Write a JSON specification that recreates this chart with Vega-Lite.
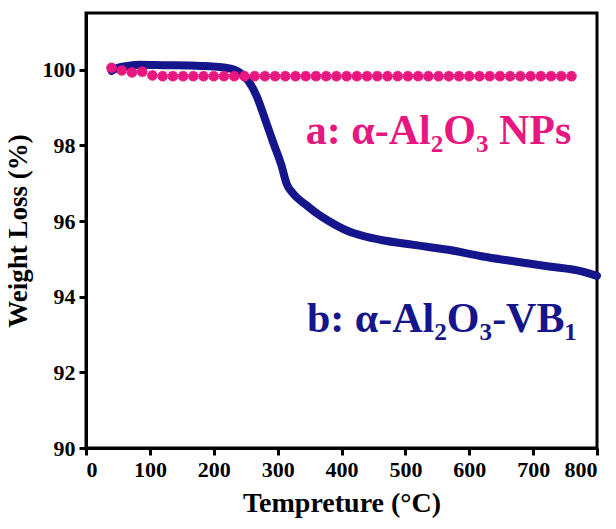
{
  "$schema": "https://vega.github.io/schema/vega-lite/v6.json",
  "width": 511,
  "height": 435,
  "autosize": "none",
  "padding": {"left": 86, "top": 13, "right": 19, "bottom": 81},
  "background": "white",
  "config": {
    "view": {"stroke": "black", "strokeWidth": 3},
    "font": "Liberation Serif",
    "axis": {
      "domainColor": "black", "domainWidth": 3, "tickColor": "black", "tickWidth": 3, "tickSize": 7,
      "labelFont": "Liberation Serif", "labelFontWeight": "bold", "labelFontSize": 22, "labelColor": "black",
      "titleFont": "Liberation Serif", "titleFontWeight": "bold", "titleColor": "black", "grid": false
    }
  },
  "datasets": {
    "a": [
      {"T": 40, "W": 100.05}, {"T": 56, "W": 99.98}, {"T": 72, "W": 99.93}, {"T": 88, "W": 99.95},
      {"T": 104, "W": 99.85}, {"T": 120, "W": 99.83}, {"T": 136, "W": 99.83}, {"T": 152, "W": 99.83},
      {"T": 168, "W": 99.83}, {"T": 184, "W": 99.83}, {"T": 200, "W": 99.83}, {"T": 216, "W": 99.83},
      {"T": 232, "W": 99.83}, {"T": 248, "W": 99.83}, {"T": 264, "W": 99.83}, {"T": 280, "W": 99.83},
      {"T": 296, "W": 99.83}, {"T": 312, "W": 99.83}, {"T": 328, "W": 99.83}, {"T": 344, "W": 99.83},
      {"T": 360, "W": 99.83}, {"T": 376, "W": 99.83}, {"T": 392, "W": 99.83}, {"T": 408, "W": 99.83},
      {"T": 424, "W": 99.83}, {"T": 440, "W": 99.83}, {"T": 456, "W": 99.83}, {"T": 472, "W": 99.83},
      {"T": 488, "W": 99.83}, {"T": 504, "W": 99.83}, {"T": 520, "W": 99.83}, {"T": 536, "W": 99.83},
      {"T": 552, "W": 99.83}, {"T": 568, "W": 99.83}, {"T": 584, "W": 99.83}, {"T": 600, "W": 99.83},
      {"T": 616, "W": 99.83}, {"T": 632, "W": 99.83}, {"T": 648, "W": 99.83}, {"T": 664, "W": 99.83},
      {"T": 680, "W": 99.83}, {"T": 696, "W": 99.83}, {"T": 712, "W": 99.83}, {"T": 728, "W": 99.83},
      {"T": 744, "W": 99.83}, {"T": 760, "W": 99.83}
    ],
    "b": [
      {"T": 40, "W": 99.97}, {"T": 50, "W": 100.05}, {"T": 65, "W": 100.1}, {"T": 85, "W": 100.13},
      {"T": 120, "W": 100.12}, {"T": 180, "W": 100.1}, {"T": 215, "W": 100.06}, {"T": 236, "W": 99.97},
      {"T": 254, "W": 99.71}, {"T": 267, "W": 99.31}, {"T": 280, "W": 98.71}, {"T": 293, "W": 98.08},
      {"T": 306, "W": 97.47}, {"T": 314, "W": 96.99}, {"T": 324, "W": 96.73}, {"T": 345, "W": 96.42},
      {"T": 360, "W": 96.22}, {"T": 380, "W": 96.0}, {"T": 408, "W": 95.75}, {"T": 435, "W": 95.6},
      {"T": 462, "W": 95.5}, {"T": 513, "W": 95.37}, {"T": 567, "W": 95.24}, {"T": 619, "W": 95.07},
      {"T": 672, "W": 94.93}, {"T": 725, "W": 94.8}, {"T": 776, "W": 94.67}, {"T": 800, "W": 94.55}
    ],
    "labels": [
      {"T": 344, "W": 98.05, "label": "a: α-Al₂O₃ NPs", "series": "a"},
      {"T": 346, "W": 93.06, "label": "b: α-Al₂O₃-VB₁", "series": "b"}
    ]
  },
  "encoding": {
    "x": {
      "field": "T", "type": "quantitative",
      "scale": {"domain": [0, 800], "nice": false},
      "axis": {"values": [0, 100, 200, 300, 400, 500, 600, 700, 800], "title": "Tempreture (°C)", "titleFontSize": 28, "titlePadding": 9, "labelPadding": 4}
    },
    "y": {
      "field": "W", "type": "quantitative",
      "scale": {"domain": [90, 101.5], "nice": false, "zero": false},
      "axis": {"values": [90, 92, 94, 96, 98, 100], "title": "Weight Loss (%)", "titleFontSize": 27, "titlePadding": 10, "labelPadding": 4}
    }
  },
  "layer": [
    {
      "data": {"name": "b"},
      "mark": {"type": "line", "color": "#15158c", "strokeWidth": 8, "strokeCap": "round", "strokeJoin": "round", "interpolate": "monotone"}
    },
    {
      "data": {"name": "a"},
      "mark": {"type": "point", "filled": false, "color": "#e8177f", "strokeWidth": 1.6, "size": 115, "opacity": 1,
        "shape": "M0,-1L0,1M-1,0L1,0M-0.7,-0.7L0.7,0.7M-0.7,0.7L0.7,-0.7M-0.38,-0.92L0.38,0.92M0.38,-0.92L-0.38,0.92M-0.92,-0.38L0.92,0.38M-0.92,0.38L0.92,-0.38"}
    },
    {
      "data": {"name": "labels"},
      "mark": {"type": "text", "align": "left", "baseline": "alphabetic", "font": "Liberation Serif", "fontWeight": "bold", "fontSize": 42},
      "encoding": {
        "text": {"field": "label"},
        "color": {"field": "series", "type": "nominal", "scale": {"domain": ["a", "b"], "range": ["#e8177f", "#15158c"]}, "legend": null}
      }
    }
  ]
}
